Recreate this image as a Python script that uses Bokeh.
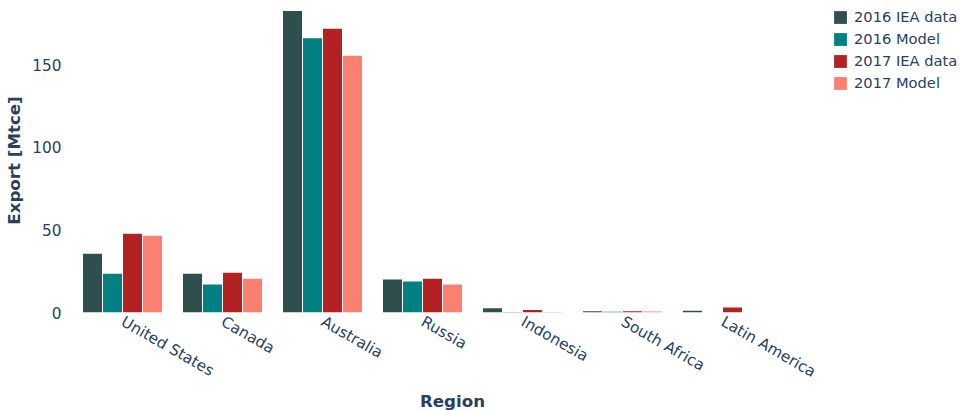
from bokeh.plotting import figure
from bokeh.models import ColumnDataSource, Legend, LegendItem, Range1d, FixedTicker
from bokeh.transform import dodge
from bokeh.embed import file_html
from bokeh.resources import INLINE

regions = ["United States", "Canada", "Australia", "Russia", "Indonesia", "South Africa", "Latin America"]
iea_2016 = [35.5, 23.5, 182.5, 19.9, 2.5, 0.8, 1.0]
model_2016 = [23.5, 16.9, 166.0, 18.7, 0.3, 0.5, 0.0]
iea_2017 = [47.6, 24.1, 171.7, 20.5, 1.5, 0.8, 3.0]
model_2017 = [46.4, 20.5, 155.4, 16.9, 0.3, 0.6, 0.0]

series = [
    ("2016 IEA data", iea_2016, "#2F4F4F"),
    ("2016 Model", model_2016, "#008080"),
    ("2017 IEA data", iea_2017, "#B22222"),
    ("2017 Model", model_2017, "#FA8072"),
]

pos = [i + 0.5 for i in range(len(regions))]
src = ColumnDataSource(dict(x=pos, s0=iea_2016, s1=model_2016, s2=iea_2017, s3=model_2017))

font = "DejaVu Sans"
txt = "#2a3f5f"

p = figure(x_range=Range1d(0, 7.6), y_range=(0, 184),
           frame_width=760, frame_height=304, output_backend="svg", toolbar_location=None,
           min_border_left=72, min_border_top=8, min_border_bottom=0, min_border_right=0)
p.outline_line_color = None
p.xgrid.grid_line_color = None
p.ygrid.grid_line_color = None

items = []
offsets = [-0.3, -0.1, 0.1, 0.3]
for i, (name, vals, color) in enumerate(series):
    r = p.vbar(x=dodge("x", offsets[i], range=p.x_range), top="s%d" % i, width=0.19,
               source=src, color=color, line_color=None)
    items.append(LegendItem(label=name, renderers=[r]))

legend = Legend(items=items, location="top_left", border_line_color=None, background_fill_alpha=0,
                label_text_font=font, label_text_font_size="11pt", label_text_color=txt,
                glyph_width=16, glyph_height=16, spacing=5, margin=0, padding=2, label_standoff=6)
p.add_layout(legend, "right")

for ax in (p.xaxis, p.yaxis):
    ax.axis_line_color = None
    ax.major_tick_line_color = None
    ax.minor_tick_line_color = None
    ax.major_label_text_font = font
    ax.major_label_text_font_size = "11.5pt"
    ax.major_label_text_color = txt
    ax.axis_label_text_font = font
    ax.axis_label_text_font_size = "12.5pt"
    ax.axis_label_text_font_style = "bold"
    ax.axis_label_text_color = txt
p.xaxis.ticker = FixedTicker(ticks=pos)
p.xaxis.major_label_overrides = {x: r for x, r in zip(pos, regions)}
p.yaxis.ticker = [0, 50, 100, 150]
p.xaxis.major_label_orientation = -0.52
p.xaxis.major_label_standoff = 2
p.xaxis.axis_label_standoff = 0
p.xaxis.axis_label = "Region"
p.yaxis.axis_label = "Export [Mtce]"

open("out.html", "w").write(file_html(p, INLINE))
